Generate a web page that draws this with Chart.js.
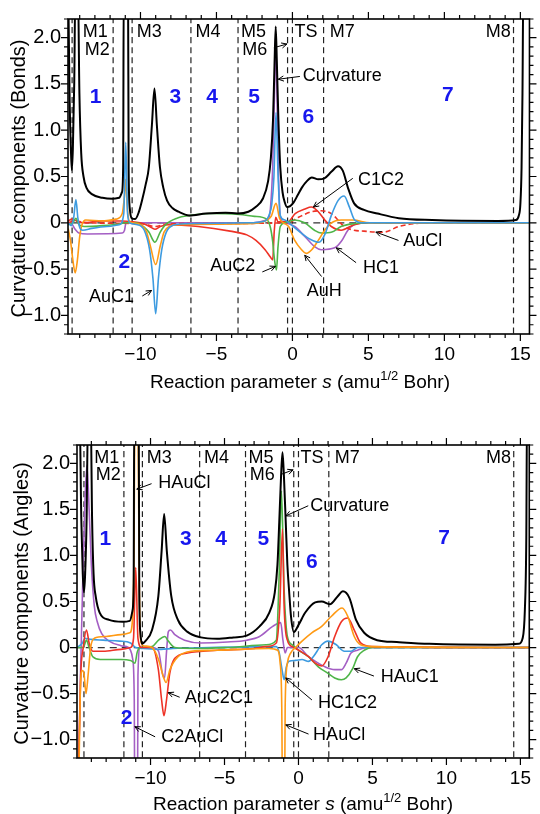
<!DOCTYPE html>
<html>
<head>
<meta charset="utf-8">
<script src="https://cdn.jsdelivr.net/npm/chart.js@4/dist/chart.umd.min.js"></script>
<style>
  body { margin: 0; background: #fff; }
  canvas { display: block; }
</style>
</head>
<body>
<canvas id="bonds" width="540" height="400"></canvas>
<canvas id="angles" width="540" height="414"></canvas>
<script>
// tick labels and stationary points along the path
const xTicks = [-10, -5, 0, 5, 10, 15];
const yTicks = [-1, -0.5, 0, 0.5, 1, 1.5, 2];
const markerS = [-14.5, -11.8, -10.55, -6.68, -3.58, -0.32, 0, 2.05, 14.55];
const markerNames = ["M1", "M2", "M3", "M4", "M5", "M6", "TS", "M7", "M8"];
const regionNames = ["1", "2", "3", "4", "5", "6", "7"];

// bonds panel: [s, value]
const bondCurvature = [[-14.76,2.6],[-14.66,1.3],[-14.58,0.8],[-14.52,0.57],[-14.45,0.8],[-14.36,1.5],[-14.28,2.6],
  [-14.12,2.6],[-14.02,1.4],[-13.9,0.75],[-13.75,0.5],[-13.56,0.38],[-13.2,0.31],[-12.5,0.27],[-11.85,0.26],[-11.4,0.27],
  [-11.22,0.33],[-11.14,0.6],[-11.1,2.6],[-10.82,2.6],[-10.78,0.6],[-10.7,0.15],[-10.58,0.05],[-10.35,0.04],[-10.1,0.12],
  [-9.9,0.24],[-9.65,0.42],[-9.45,0.6],[-9.25,1.05],[-9.08,1.45],[-8.92,1.05],[-8.72,0.6],[-8.5,0.38],[-8.25,0.24],
  [-7.9,0.16],[-7.5,0.12],[-6.8,0.08],[-5.7,0.1],[-4.4,0.11],[-3.6,0.1],[-2.9,0.12],[-2.42,0.17],[-1.95,0.26],[-1.6,0.45],
  [-1.42,0.7],[-1.28,1.1],[-1.18,1.7],[-1.1,2.12],[-1.02,1.7],[-0.92,1.1],[-0.8,0.6],[-0.65,0.33],[-0.5,0.22],[-0.35,0.17],
  [-0.15,0.18],[0.08,0.22],[0.35,0.3],[0.62,0.38],[0.95,0.45],[1.27,0.49],[1.7,0.47],[2.1,0.48],[2.56,0.55],[3.0,0.61],
  [3.32,0.56],[3.65,0.38],[4.06,0.21],[4.71,0.14],[5.6,0.1],[7.0,0.05],[9.2,0.03],[13.5,0.02],[14.7,0.03],[14.9,0.08],
  [15.0,0.2],[15.08,0.6],[15.14,1.4],[15.2,2.6],[15.6,2.6]];
const bondAuC1 = [[-14.76,0],[-14.55,-0.03],[-14.4,0.05],[-14.25,0.25],[-14.12,0.05],[-14.0,-0.05],[-13.8,-0.08],[-13.2,-0.06],
  [-12.2,-0.04],[-11.4,-0.02],[-11.1,0.1],[-10.97,0.87],[-10.85,0.1],[-10.7,0],[-10.2,-0.02],[-9.75,-0.08],[-9.4,-0.29],
  [-9.18,-0.6],[-9.0,-0.98],[-8.82,-0.6],[-8.6,-0.29],[-8.3,-0.1],[-7.9,-0.03],[-7,-0.01],[-3,0],[-1.8,0.02],[-1.5,0.1],
  [-1.36,0.2],[-1.22,0.49],[-1.08,1.19],[-0.94,0.49],[-0.8,0.08],[-0.5,0.03],[-0.1,-0.02],[0.5,-0.1],[1.2,-0.18],
  [1.75,-0.21],[2.15,-0.12],[2.56,0.08],[3.0,0.24],[3.4,0.29],[3.75,0.17],[4.1,0.03],[4.7,0],[15.6,0]];
const bondAuH = [[-14.76,-0.06],[-14.6,-0.2],[-14.45,-0.4],[-14.3,-0.54],[-14.15,-0.4],[-14.0,-0.15],[-13.85,-0.02],
  [-13.6,0.03],[-12.5,0.02],[-11.6,0.04],[-11.2,0.1],[-11.05,0.3],[-10.97,0.47],[-10.88,0.2],[-10.75,0.02],[-10.5,0],
  [-9.9,-0.03],[-9.6,-0.1],[-9.35,-0.25],[-9.0,-0.45],[-8.7,-0.25],[-8.45,-0.1],[-8.1,-0.04],[-7.5,-0.02],[-3,-0.01],
  [-1.8,0.02],[-1.4,0.07],[-1.08,0.21],[-0.85,0.05],[-0.6,0],[-0.25,-0.04],[0.15,-0.19],[0.6,-0.29],[0.9,-0.33],
  [1.27,-0.29],[1.7,-0.19],[2.12,-0.08],[2.56,0],[3.2,0.03],[4.0,0.03],[5.1,0],[15.6,0]];
const bondAuC2 = [[-14.76,-0.02],[-14.45,0],[-14.25,0.05],[-14.05,-0.02],[-13.7,-0.04],[-12.5,-0.03],[-11.3,-0.01],
  [-11.0,0],[-10.3,0],[-9.8,-0.04],[-9.45,-0.1],[-9.05,-0.21],[-8.7,-0.1],[-8.35,-0.02],[-7.6,0.05],[-6.7,0.08],
  [-5.5,0.1],[-3.5,0.09],[-2.5,0.07],[-1.7,0.04],[-1.45,-0.05],[-1.3,-0.2],[-1.18,-0.4],[-1.05,-0.51],[-0.95,-0.26],
  [-0.8,-0.04],[-0.5,0],[0.15,0.03],[0.8,0],[1.45,-0.08],[1.9,-0.11],[2.6,-0.1],[3.2,-0.04],[4.0,-0.01],[5.0,0],[15.6,0]];
const bondC1C2 = [[-14.76,0.02],[-14.5,0.04],[-14.2,0.02],[-13.8,0],[-12.5,0.02],[-11.2,0.02],[-10.5,0.01],[-9.8,-0.01],
  [-9.4,-0.04],[-9.05,-0.07],[-8.7,-0.04],[-8.2,-0.02],[-6.2,-0.04],[-4.1,-0.09],[-3.0,-0.13],[-2.4,-0.19],[-1.8,-0.29],
  [-1.45,-0.37],[-1.3,-0.4],[-1.2,-0.1],[-1.1,0.06],[-0.95,0.01],[-0.3,0.01],[0.18,0.1],[0.83,0.15],[1.25,0.17],
  [1.7,0.12],[2.13,0.03],[2.56,-0.04],[3.2,-0.08],[4.06,-0.02],[5.0,0],[15.6,0]];
const bondAuCl = [[-14.76,0],[-14.3,0.02],[-13.5,0],[-9.9,-0.01],[-9.05,-0.04],[-8.2,-0.01],[-0.3,0],[0.4,0.06],
  [1.27,0.12],[1.9,0.13],[2.56,0.1],[3.0,0.03],[3.4,-0.04],[4.06,-0.08],[4.7,-0.09],[5.6,-0.1],[6.0,-0.1],[7.0,-0.04],
  [8.0,-0.01],[9.0,0],[15.6,0]];
const bondHC1 = [[-14.76,0],[-14.6,0],[-14.3,-0.07],[-14.05,-0.11],[-13.5,-0.12],[-11.2,-0.11],[-11.05,-0.08],[-10.95,0],
  [-9.0,0],[-3,0],[-1.6,0.04],[-1.45,0.15],[-1.3,0.6],[-1.18,1.4],[-1.1,2.0],[-1.02,1.4],[-0.92,0.55],[-0.8,0.06],
  [-0.5,0],[0.15,-0.04],[0.83,-0.15],[1.48,-0.26],[1.9,-0.29],[2.78,-0.27],[3.22,-0.2],[3.65,-0.08],[4.06,-0.02],
  [5.0,0],[15.6,0]];

// angles panel: [s, value]
const angCurvature = [[-14.96,2.6],[-14.8,2.6],[-14.68,1.4],[-14.58,0.8],[-14.5,0.6],[-14.42,0.8],[-14.32,1.4],[-14.22,2.6],
  [-14.05,2.6],[-13.95,1.4],[-13.85,0.8],[-13.7,0.55],[-13.44,0.38],[-12.8,0.3],[-11.9,0.28],[-11.4,0.29],[-11.22,0.4],
  [-11.14,0.7],[-11.1,2.6],[-10.8,2.6],[-10.76,0.6],[-10.68,0.15],[-10.58,0.04],[-10.35,0.07],[-9.9,0.19],[-9.47,0.56],
  [-9.25,1.05],[-9.08,1.45],[-8.9,1.05],[-8.6,0.56],[-8.15,0.3],[-7.5,0.17],[-6.6,0.11],[-5.5,0.095],[-4.4,0.11],
  [-3.5,0.13],[-2.63,0.23],[-1.97,0.38],[-1.6,0.6],[-1.42,0.9],[-1.3,1.36],[-1.18,1.85],[-1.08,2.12],[-0.98,1.85],
  [-0.86,1.36],[-0.75,0.9],[-0.64,0.63],[-0.5,0.33],[-0.31,0.17],[0.02,0.25],[0.46,0.38],[1.13,0.49],[1.57,0.5],
  [2.12,0.47],[2.67,0.56],[3.0,0.61],[3.44,0.54],[3.89,0.3],[4.44,0.16],[5.32,0.08],[6.64,0.06],[8.85,0.04],[13.3,0.03],
  [14.9,0.04],[15.15,0.1],[15.3,0.4],[15.4,1.2],[15.45,2.6],[15.6,2.6]];
const angHAuCl = [[-14.96,-2.5],[-14.85,-1.5],[-14.75,-0.5],[-14.62,-0.25],[-14.5,-0.28],[-14.36,-0.5],[-14.22,-0.3],
  [-14.05,0],[-13.8,0.1],[-13.0,0.12],[-12.0,0.14],[-11.4,0.16],[-11.22,0.3],[-11.12,1.0],[-11.05,2.6],[-10.85,2.6],
  [-10.78,1.0],[-10.68,0.1],[-10.5,0.02],[-9.9,0],[-9.46,-0.13],[-9.13,-0.32],[-8.95,-0.38],[-8.69,-0.24],[-8.14,-0.1],
  [-7.26,-0.04],[-5.5,-0.03],[-2.0,-0.01],[-1.4,-0.03],[-1.25,-0.15],[-1.13,-0.64],[-1.05,-2.5],[-0.97,-2.5],[-0.9,-0.64],
  [-0.75,-0.17],[-0.53,-0.06],[-0.2,0],[0.24,0.07],[0.9,0.16],[1.57,0.23],[2.23,0.34],[2.95,0.43],[3.33,0.34],
  [3.77,0.12],[4.2,0.03],[5.0,0.01],[15.6,0]];
const angAuC2C1 = [[-14.96,-2.0],[-14.85,-1.2],[-14.72,-0.3],[-14.55,0],[-14.33,0.19],[-14.15,0.05],[-13.9,-0.04],
  [-13.2,-0.04],[-12.0,-0.02],[-11.35,0],[-11.15,0.1],[-11.0,0.87],[-10.85,0.1],[-10.6,0],[-9.9,0],[-9.47,-0.24],
  [-9.25,-0.57],[-9.09,-0.74],[-8.92,-0.57],[-8.7,-0.28],[-8.37,-0.12],[-7.5,-0.06],[-5.5,-0.03],[-3,-0.01],[-2.2,0.01],
  [-1.5,0.05],[-1.26,0.45],[-1.08,1.29],[-0.97,0.45],[-0.75,0.08],[-0.42,0.01],[0.02,-0.03],[0.68,-0.1],[1.13,-0.17],
  [1.57,-0.2],[2.0,-0.1],[2.45,0.12],[2.9,0.28],[3.33,0.32],[3.77,0.19],[4.2,0.05],[5.0,0.01],[15.6,0]];
const angHAuC1 = [[-14.96,0],[-14.55,0],[-14.33,0.08],[-14.15,0],[-13.9,-0.1],[-13.4,-0.13],[-12.0,-0.13],[-11.35,-0.14],
  [-11.05,-0.17],[-10.9,-0.05],[-10.7,0],[-9.9,0.01],[-9.46,0.08],[-9.03,0.12],[-8.8,0.07],[-8.36,0],[-7,-0.01],
  [-4.8,0],[-2.2,0.03],[-1.5,0.08],[-1.3,0.81],[-1.15,1.7],[-0.97,0.63],[-0.75,0.12],[-0.42,0.03],[0.02,-0.03],
  [0.68,-0.1],[1.34,-0.21],[2.0,-0.28],[2.45,-0.33],[2.9,-0.35],[3.22,-0.33],[3.66,-0.23],[3.99,-0.1],[4.44,-0.03],
  [5.0,0],[15.6,0]];
const angHC1C2 = [[-14.96,0],[-14.6,0.05],[-14.44,0.1],[-14.1,0.09],[-13.2,0.08],[-12.1,0.07],[-11.35,0.05],[-11.0,0],
  [-10.5,-0.01],[-9.3,-0.02],[-8.5,-0.01],[-6,0],[-1.5,0.01],[-1.3,-0.06],[-1.1,-0.25],[-0.97,-0.35],[-0.82,-0.21],
  [-0.64,-0.15],[-0.2,-0.14],[0.24,-0.13],[0.68,-0.15],[1.0,-0.1],[1.57,0.03],[2.0,0.07],[2.56,0.03],[3.1,-0.04],
  [3.55,-0.04],[4.0,0],[15.6,0]];
const angC2AuCl = [[-14.96,-2.0],[-14.85,-1.2],[-14.72,-0.2],[-14.6,0.6],[-14.45,1.5],[-14.3,1.98],[-14.15,1.5],
  [-14.0,0.9],[-13.8,0.45],[-13.6,0.28],[-13.3,0.15],[-12.8,0.07],[-12.0,0.02],[-11.5,0],[-11.35,-0.03],[-11.2,-0.13],
  [-11.1,-0.57],[-11.05,-2.5],[-10.9,-2.5],[-10.85,-0.3],[-10.7,0],[-9.9,0],[-9.46,-0.04],[-9.2,-0.28],[-9.05,-0.33],
  [-8.92,-0.05],[-8.8,0.17],[-8.65,0.19],[-8.36,0.14],[-7.7,0.08],[-6.6,0.05],[-4.8,0.06],[-3.5,0.08],[-2.63,0.12],
  [-1.74,0.23],[-1.2,0.27],[-1.05,0.08],[-0.9,-0.06],[-0.75,0],[0,0],[0.68,-0.1],[1.34,-0.17],[1.79,-0.21],[2.45,-0.24],
  [2.9,-0.24],[3.22,-0.17],[3.55,-0.06],[3.99,-0.03],[4.6,0],[15.6,0]];

const BLUE = "#3d9be0", ORANGE = "#ff9a14", GREEN = "#4eb548", RED = "#ee3226", PURPLE = "#a45fc4";
const FONT = "'Liberation Sans', Arial, sans-serif";

// marker names sit on two rows at the top of each panel
const markerText = [
  { s: -13.8, row: 1, align: "left" }, { s: -12.02, row: 2, align: "right" }, { s: -10.25, row: 1, align: "left" },
  { s: -6.38, row: 1, align: "left" }, { s: -3.38, row: 1, align: "left" }, { s: -3.3, row: 2, align: "left" },
  { s: 0.14, row: 1, align: "left" }, { s: 2.45, row: 1, align: "left" }, { s: 14.37, row: 1, align: "right" },
];

function line(data, color, width, dash) {
  return {
    data: data.map(([x, y]) => ({ x, y })),
    borderColor: color, borderWidth: width, borderDash: dash || [],
    pointRadius: 0, cubicInterpolationMode: "monotone", fill: false,
  };
}

function fmt(v) {
  if (v === 0) return "0";
  const t = Math.abs(v) % 1 === 0 && Math.abs(v) >= 5 ? String(Math.abs(v)) : Math.abs(v).toFixed(1);
  return (v < 0 ? "\u2212" : "") + t;
}

function arrow(ctx, x1, y1, x2, y2) {
  const a = Math.atan2(y2 - y1, x2 - x1), h = 6;
  ctx.beginPath();
  ctx.moveTo(x1, y1); ctx.lineTo(x2, y2);
  ctx.moveTo(x2 - h * Math.cos(a - 0.45), y2 - h * Math.sin(a - 0.45));
  ctx.lineTo(x2, y2);
  ctx.lineTo(x2 - h * Math.cos(a + 0.45), y2 - h * Math.sin(a + 0.45));
  ctx.stroke();
}

// frame, ticks on all sides, texts and arrows
const decor = {
  id: "decor",
  afterDraw(chart, args, o) {
    const { ctx, chartArea: a, scales: { x, y } } = chart;
    ctx.save();
    ctx.strokeStyle = "#000";
    ctx.lineWidth = 1.6;
    ctx.strokeRect(a.left, a.top, a.right - a.left, a.bottom - a.top);
    ctx.lineWidth = 1.2;
    ctx.beginPath();
    for (let s = Math.ceil(x.min); s <= x.max; s++) {
      const px = x.getPixelForValue(s), len = s % 5 === 0 ? 7 : 4;
      ctx.moveTo(px, a.bottom); ctx.lineTo(px, a.bottom + len);
      ctx.moveTo(px, a.top); ctx.lineTo(px, a.top - len);
    }
    for (let i = -12; i <= 22; i++) {
      const py = y.getPixelForValue(i / 10), len = i % 5 === 0 ? 7 : 4;
      ctx.moveTo(a.left, py); ctx.lineTo(a.left - len, py);
      ctx.moveTo(a.right, py); ctx.lineTo(a.right + len, py);
    }
    ctx.stroke();

    ctx.fillStyle = "#000";
    ctx.textBaseline = "middle";
    ctx.font = "18px " + FONT;
    markerNames.forEach((t, i) => {
      const m = markerText[i];
      ctx.textAlign = m.align;
      ctx.fillText(t, x.getPixelForValue(m.s), y.getPixelForValue(m.row === 1 ? 2.055 : 1.87));
    });

    ctx.lineWidth = 1;
    o.notes.forEach(n => {
      ctx.textAlign = n.align || "left";
      ctx.fillText(n.t || "", x.getPixelForValue(n.s), y.getPixelForValue(n.v));
      arrow(ctx, x.getPixelForValue(n.a[0]), y.getPixelForValue(n.a[1]),
        x.getPixelForValue(n.a[2]), y.getPixelForValue(n.a[3]));
    });

    ctx.fillStyle = "#1717ee";
    ctx.font = "bold 21px " + FONT;
    ctx.textAlign = "center";
    regionNames.forEach((t, i) => {
      const p = o.regions[i];
      ctx.fillText(t, x.getPixelForValue(p[0]), y.getPixelForValue(p[1]));
    });

    // axis titles
    ctx.fillStyle = "#000";
    ctx.save();
    ctx.translate(o.yTitleX, (a.top + a.bottom) / 2 + 2);
    ctx.rotate(-Math.PI / 2);
    ctx.font = "20px " + FONT;
    ctx.textAlign = "center";
    ctx.fillText(o.yTitle, 0, 0);
    ctx.restore();

    const parts = [
      ["Reaction parameter ", "19px " + FONT, 0],
      ["s", "italic 19px " + FONT, 0],
      [" (amu", "19px " + FONT, 0],
      ["1/2", "13px " + FONT, -8],
      [" Bohr)", "19px " + FONT, 0],
    ];
    let w = 0;
    parts.forEach(p => { ctx.font = p[1]; w += ctx.measureText(p[0]).width; });
    let cx = o.xTitleX - w / 2;
    ctx.textAlign = "left";
    ctx.textBaseline = "alphabetic";
    parts.forEach(p => {
      ctx.font = p[1];
      ctx.fillText(p[0], cx, o.xTitleY + p[2]);
      cx += ctx.measureText(p[0]).width;
    });
    ctx.restore();
  },
};

function makeChart(id, series, cfg) {
  const sets = series.map(s => line(s[0], s[1], s[2], s[3]));
  sets.push(line([[-16, 0], [16, 0]], "#333", 1.3, [7, 5]));
  markerS.forEach(s => sets.push(line([[s, -1.3], [s, 2.3]], "#222", 1.2, [6, 4])));
  return new Chart(document.getElementById(id), {
    type: "line",
    data: { datasets: sets },
    plugins: [decor],
    options: {
      responsive: false,
      animation: false,
      layout: { padding: cfg.padding },
      plugins: {
        legend: { display: false },
        tooltip: { enabled: false },
        decor: cfg.decor,
      },
      scales: {
        x: {
          type: "linear", min: cfg.xMin, max: 15.6,
          afterBuildTicks: s => { s.ticks = xTicks.map(v => ({ value: v })); },
          afterFit: s => { s.height = 50; },
          grid: { display: false, drawTicks: false },
          border: { display: false },
          ticks: { callback: fmt, font: { size: 19, family: FONT }, color: "#000", padding: 9, maxRotation: 0, autoSkip: false },
        },
        y: {
          min: -1.2, max: 2.2,
          afterBuildTicks: s => { s.ticks = yTicks.map(v => ({ value: v })); },
          afterFit: s => { s.width = cfg.yWidth; },
          grid: { display: false, drawTicks: false },
          border: { display: false },
          ticks: { callback: fmt, font: { size: 20, family: FONT }, color: "#000", padding: 7, autoSkip: false },
        },
      },
    },
  });
}

makeChart("bonds", [
  [bondCurvature, "#000", 2],
  [bondAuC1, BLUE, 1.6],
  [bondAuH, ORANGE, 1.6],
  [bondAuC2, GREEN, 1.6],
  [bondC1C2, RED, 1.6],
  [bondAuCl, RED, 1.6, [5, 3]],
  [bondHC1, PURPLE, 1.6],
], {
  xMin: -14.77, yWidth: 68,
  padding: { top: 17, right: 4, bottom: 16, left: 0 },
  decor: {
    yTitle: "Curvature components (Bonds)", yTitleX: 19, xTitleX: 300, xTitleY: 388,
    regions: [[-12.95, 1.36], [-11.07, -0.42], [-7.71, 1.36], [-5.29, 1.36], [-2.52, 1.36], [1.05, 1.14], [10.23, 1.38]],
    notes: [
      { t: "", s: 0, v: 0, a: [-1.22, 1.89, -0.36, 1.93] },
      { t: "Curvature", s: 0.68, v: 1.58, a: [0.49, 1.58, -0.93, 1.55] },
      { t: "C1C2", s: 4.32, v: 0.46, a: [3.97, 0.48, 1.38, 0.17] },
      { t: "AuCl", s: 7.3, v: -0.2, a: [6.98, -0.19, 5.49, -0.1] },
      { t: "HC1", s: 4.64, v: -0.49, a: [4.19, -0.43, 2.89, -0.27] },
      { t: "AuH", s: 0.94, v: -0.74, a: [1.92, -0.58, 0.81, -0.35] },
      { t: "AuC2", s: -2.44, v: -0.47, align: "right", a: [-1.98, -0.53, -1.12, -0.47] },
      { t: "AuC1", s: -10.42, v: -0.8, align: "right", a: [-9.88, -0.79, -9.27, -0.73] },
    ],
  },
});

makeChart("angles", [
  [angCurvature, "#000", 2],
  [angHAuCl, ORANGE, 1.6],
  [angAuC2C1, RED, 1.6],
  [angHAuC1, GREEN, 1.6],
  [angHC1C2, BLUE, 1.6],
  [angC2AuCl, PURPLE, 1.6],
], {
  xMin: -14.97, yWidth: 77,
  padding: { top: 45, right: 2, bottom: 6, left: 0 },
  decor: {
    yTitle: "Curvature components (Angles)", yTitleX: 22, xTitleX: 303, xTitleY: 410,
    regions: [[-13.05, 1.18], [-11.61, -0.77], [-7.62, 1.18], [-5.23, 1.18], [-2.38, 1.18], [0.91, 0.93], [9.85, 1.19]],
    notes: [
      { t: "", s: 0, v: 0, a: [-1.19, 1.88, -0.36, 1.93] },
      { t: "HAuCl", s: -9.47, v: 1.79, a: [-9.93, 1.78, -10.93, 1.72] },
      { t: "Curvature", s: 0.79, v: 1.54, a: [0.66, 1.54, -0.86, 1.43] },
      { t: "AuC2C1", s: -7.68, v: -0.55, a: [-8.03, -0.54, -8.81, -0.49] },
      { t: "C2AuCl", s: -9.27, v: -0.97, a: [-9.69, -0.97, -11.06, -0.86] },
      { t: "HAuC1", s: 5.56, v: -0.32, a: [5.1, -0.31, 3.77, -0.23] },
      { t: "HC1C2", s: 1.32, v: -0.6, a: [0.91, -0.57, -0.86, -0.33] },
      { t: "HAuCl", s: 0.99, v: -0.95, a: [0.68, -0.94, -0.86, -0.84] },
    ],
  },
});
</script>
</body>
</html>
